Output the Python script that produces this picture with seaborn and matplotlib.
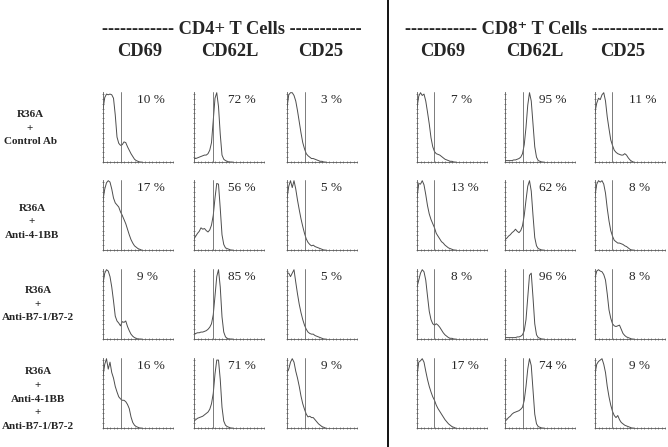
import numpy as np
import matplotlib
matplotlib.use("Agg")
import matplotlib.pyplot as plt
from matplotlib.ticker import MultipleLocator
from matplotlib.lines import Line2D
import seaborn as sns

# fluorescence channel (relative units, 0-100 = full axis)
channel = np.arange(0, 57.5, 2.5)

# histogram heights (normalised to peak = 1)
# row 1: R36A + Control Ab
ctrl_cd4_cd69 = [0.76, 0.93, 0.98, 0.97, 0.98, 0.97, 0.92, 0.68, 0.36, 0.27, 0.24, 0.25, 0.29, 0.28, 0.22, 0.17, 0.12, 0.08, 0.04, 0.02, 0.01, 0.0, 0.0]
ctrl_cd4_cd62l = [0.05, 0.05, 0.06, 0.07, 0.08, 0.09, 0.10, 0.10, 0.12, 0.17, 0.28, 0.60, 0.92, 1.0, 0.80, 0.40, 0.10, 0.04, 0.02, 0.01, 0.0, 0.0, 0.0]
ctrl_cd4_cd25 = [0.78, 0.97, 1.0, 1.0, 0.96, 0.88, 0.74, 0.58, 0.42, 0.28, 0.19, 0.12, 0.09, 0.07, 0.05, 0.05, 0.04, 0.03, 0.02, 0.01, 0.01, 0.0, 0.0]
ctrl_cd8_cd69 = [0.78, 0.95, 1.0, 0.96, 0.98, 0.88, 0.72, 0.55, 0.35, 0.22, 0.15, 0.12, 0.11, 0.10, 0.08, 0.06, 0.04, 0.03, 0.02, 0.01, 0.01, 0.0, 0.0]
ctrl_cd8_cd62l = [0.02, 0.02, 0.02, 0.02, 0.02, 0.03, 0.03, 0.04, 0.05, 0.07, 0.12, 0.25, 0.50, 0.82, 1.0, 0.88, 0.55, 0.22, 0.07, 0.02, 0.01, 0.0, 0.0]
ctrl_cd8_cd25 = [0.72, 0.85, 0.92, 0.90, 0.97, 1.0, 0.88, 0.65, 0.48, 0.32, 0.24, 0.17, 0.14, 0.12, 0.11, 0.10, 0.10, 0.12, 0.10, 0.06, 0.03, 0.01, 0.0]
# row 2: R36A + Anti-4-1BB
bb_cd4_cd69 = [0.72, 0.88, 0.97, 1.0, 0.98, 0.88, 0.75, 0.68, 0.65, 0.62, 0.55, 0.50, 0.44, 0.38, 0.30, 0.22, 0.15, 0.10, 0.06, 0.04, 0.02, 0.01, 0.0]
bb_cd4_cd62l = [0.16, 0.20, 0.24, 0.27, 0.32, 0.30, 0.31, 0.28, 0.26, 0.29, 0.36, 0.50, 0.75, 0.96, 0.95, 0.60, 0.22, 0.08, 0.03, 0.02, 0.01, 0.0, 0.0]
bb_cd4_cd25 = [0.74, 0.92, 1.0, 0.90, 1.0, 0.88, 0.72, 0.58, 0.45, 0.34, 0.24, 0.16, 0.11, 0.08, 0.06, 0.07, 0.05, 0.04, 0.03, 0.02, 0.01, 0.0, 0.0]
bb_cd8_cd69 = [0.75, 0.96, 0.95, 1.0, 0.94, 0.80, 0.64, 0.52, 0.44, 0.38, 0.32, 0.24, 0.20, 0.16, 0.12, 0.10, 0.07, 0.05, 0.03, 0.02, 0.01, 0.0, 0.0]
bb_cd8_cd62l = [0.15, 0.17, 0.20, 0.22, 0.25, 0.27, 0.30, 0.27, 0.25, 0.28, 0.35, 0.50, 0.72, 0.92, 1.0, 0.85, 0.50, 0.18, 0.06, 0.02, 0.01, 0.0, 0.0]
bb_cd8_cd25 = [0.78, 0.95, 1.0, 0.98, 1.0, 0.95, 0.82, 0.60, 0.42, 0.28, 0.20, 0.14, 0.12, 0.10, 0.10, 0.09, 0.08, 0.06, 0.05, 0.03, 0.01, 0.0, 0.0]
# row 3: R36A + Anti-B7-1/B7-2
b7_cd4_cd69 = [0.80, 0.95, 1.0, 0.98, 0.90, 0.75, 0.55, 0.33, 0.26, 0.23, 0.19, 0.25, 0.24, 0.26, 0.18, 0.12, 0.07, 0.04, 0.02, 0.01, 0.0, 0.0, 0.0]
b7_cd4_cd62l = [0.08, 0.08, 0.09, 0.09, 0.10, 0.10, 0.11, 0.12, 0.14, 0.17, 0.22, 0.35, 0.62, 0.90, 1.0, 0.75, 0.32, 0.10, 0.03, 0.01, 0.0, 0.0, 0.0]
b7_cd4_cd25 = [0.95, 0.95, 0.90, 0.95, 1.0, 0.82, 0.65, 0.50, 0.38, 0.28, 0.20, 0.14, 0.10, 0.08, 0.07, 0.07, 0.05, 0.04, 0.03, 0.02, 0.01, 0.0, 0.0]
b7_cd8_cd69 = [0.75, 0.85, 0.95, 1.0, 0.97, 0.85, 0.62, 0.40, 0.28, 0.22, 0.20, 0.22, 0.20, 0.17, 0.13, 0.09, 0.06, 0.04, 0.02, 0.01, 0.01, 0.0, 0.0]
b7_cd8_cd62l = [0.02, 0.02, 0.02, 0.02, 0.02, 0.02, 0.02, 0.03, 0.03, 0.04, 0.06, 0.12, 0.28, 0.60, 0.92, 0.95, 0.60, 0.22, 0.06, 0.02, 0.01, 0.0, 0.0]
b7_cd8_cd25 = [0.88, 0.98, 1.0, 0.98, 0.97, 0.93, 0.85, 0.65, 0.42, 0.30, 0.22, 0.19, 0.18, 0.19, 0.20, 0.14, 0.08, 0.05, 0.03, 0.02, 0.01, 0.0, 0.0]
# row 4: R36A + Anti-4-1BB + Anti-B7-1/B7-2
both_cd4_cd69 = [0.75, 0.92, 1.0, 0.85, 0.95, 0.80, 0.72, 0.60, 0.52, 0.45, 0.42, 0.40, 0.40, 0.38, 0.34, 0.28, 0.16, 0.08, 0.04, 0.02, 0.01, 0.0, 0.0]
both_cd4_cd62l = [0.10, 0.12, 0.14, 0.15, 0.16, 0.17, 0.19, 0.21, 0.23, 0.27, 0.35, 0.50, 0.78, 0.98, 0.98, 0.70, 0.30, 0.10, 0.04, 0.02, 0.01, 0.0, 0.0]
both_cd4_cd25 = [0.80, 0.85, 0.95, 1.0, 0.95, 0.82, 0.72, 0.60, 0.46, 0.35, 0.27, 0.20, 0.16, 0.17, 0.15, 0.15, 0.12, 0.09, 0.06, 0.04, 0.02, 0.01, 0.0]
both_cd8_cd69 = [0.75, 0.95, 0.97, 1.0, 0.95, 0.82, 0.70, 0.60, 0.52, 0.45, 0.40, 0.33, 0.28, 0.24, 0.20, 0.16, 0.12, 0.09, 0.06, 0.04, 0.02, 0.01, 0.0]
both_cd8_cd62l = [0.10, 0.12, 0.15, 0.17, 0.20, 0.22, 0.23, 0.24, 0.25, 0.27, 0.30, 0.40, 0.60, 0.85, 1.0, 0.90, 0.55, 0.20, 0.06, 0.02, 0.01, 0.0, 0.0]
both_cd8_cd25 = [0.78, 0.92, 0.96, 0.98, 1.0, 0.92, 0.80, 0.60, 0.45, 0.33, 0.24, 0.18, 0.15, 0.18, 0.12, 0.08, 0.06, 0.04, 0.03, 0.02, 0.01, 0.0, 0.0]

histos = [
    [ctrl_cd4_cd69, ctrl_cd4_cd62l, ctrl_cd4_cd25, ctrl_cd8_cd69, ctrl_cd8_cd62l, ctrl_cd8_cd25],
    [bb_cd4_cd69, bb_cd4_cd62l, bb_cd4_cd25, bb_cd8_cd69, bb_cd8_cd62l, bb_cd8_cd25],
    [b7_cd4_cd69, b7_cd4_cd62l, b7_cd4_cd25, b7_cd8_cd69, b7_cd8_cd62l, b7_cd8_cd25],
    [both_cd4_cd69, both_cd4_cd62l, both_cd4_cd25, both_cd8_cd69, both_cd8_cd62l, both_cd8_cd25],
]
percents = [
    [10, 72, 3, 7, 95, 11],
    [17, 56, 5, 13, 62, 8],
    [9, 85, 5, 8, 96, 8],
    [16, 71, 9, 17, 74, 9],
]
gates = [25, 27, 25, 24, 26, 24]   # position of the marker line per column
row_labels = ["R36A\n+\nControl Ab",
              "R36A\n+\nAnti-4-1BB",
              "R36A\n+\nAnti-B7-1/B7-2",
              "R36A\n+\nAnti-4-1BB\n+\nAnti-B7-1/B7-2"]
markers = ["CD69", "CD62L", "CD25", "CD69", "CD62L", "CD25"]

sns.set_style("white")
plt.rcParams["font.family"] = ["Liberation Serif", "DejaVu Serif"]

W, H = 668, 447
fig = plt.figure(figsize=(W / 100, H / 100), dpi=100)

def fx(px):
    return px / W

def fy(py):
    return 1 - py / H

col_left = [103, 194, 287, 417, 505, 595]   # pixel layout
row_top = [92, 180, 269, 358]
pw, ph = 70, 70

for r in range(4):
    for c in range(6):
        ax = fig.add_axes([fx(col_left[c]), fy(row_top[r] + ph), pw / W, ph / H])
        sns.lineplot(x=channel, y=histos[r][c], ax=ax, color="0.3", linewidth=0.7)
        ax.axvline(gates[c], color="0.4", linewidth=0.6)
        ax.set_xlim(0, 100)
        ax.set_ylim(0, 1.01)
        for s in ["top", "right"]:
            ax.spines[s].set_visible(False)
        for s in ["left", "bottom"]:
            ax.spines[s].set_color("0.35")
            ax.spines[s].set_linewidth(0.6)
        ax.xaxis.set_major_locator(MultipleLocator(5))
        ax.yaxis.set_major_locator(MultipleLocator(0.07))
        ax.tick_params(direction="inout", length=2, width=0.5, color="0.4",
                       labelleft=False, labelbottom=False, left=True, bottom=True)
        ax.set_xlabel("")
        ax.set_ylabel("")
        ax.text(0.49, 0.89, f"{percents[r][c]} %", transform=ax.transAxes,
                ha="left", va="center", fontsize=9.5)

# row labels
label_x = [30, 32, 38, 38]
label_y = [128, 222, 304, 399]
for r in range(4):
    fig.text(fx(label_x[r]), fy(label_y[r]), row_labels[r], ha="center", va="center",
             fontsize=8, fontweight="bold", linespacing=1.65, multialignment="center")

# column headers
header_x = [140, 230, 321, 443, 535, 623]
for c in range(6):
    fig.text(fx(header_x[c]), fy(52), markers[c], ha="center", va="center",
             fontsize=13.3, fontweight="bold")

dashes = "-" * 12
fig.text(fx(232), fy(30), f"{dashes} CD4+ T Cells {dashes}", ha="center", va="center",
         fontsize=13.3, fontweight="bold")
fig.text(fx(534), fy(30), f"{dashes} CD8\u207a T Cells {dashes}", ha="center", va="center",
         fontsize=13.3, fontweight="bold")

# separator between CD4 and CD8 blocks
fig.add_artist(Line2D([fx(388), fx(388)], [0, 1], transform=fig.transFigure,
                      color="black", linewidth=1.3))

fig.savefig("out.png", dpi=100, facecolor="white")
